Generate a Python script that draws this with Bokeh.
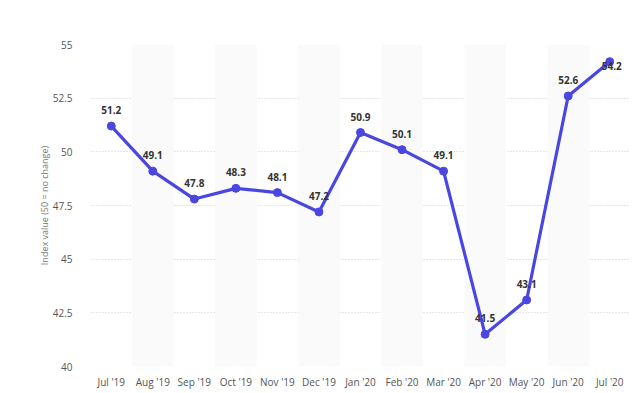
from bokeh.plotting import figure
from bokeh.models import FixedTicker, ColumnDataSource
from bokeh.core.properties import value
from bokeh.embed import file_html
from bokeh.resources import INLINE

months = ["Jul '19", "Aug '19", "Sep '19", "Oct '19", "Nov '19", "Dec '19",
          "Jan '20", "Feb '20", "Mar '20", "Apr '20", "May '20", "Jun '20", "Jul '20"]
index_values = [51.2, 49.1, 47.8, 48.3, 48.1, 47.2, 50.9, 50.1, 49.1, 41.5, 43.1, 52.6, 54.2]
y_ticks = [40, 42.5, 45, 47.5, 50, 52.5, 55]
y_tick_labels = ["40", "42.5", "45", "47.5", "50", "52.5", "55"]

Y_MIN, Y_MAX = 40, 55
FONT = "Open Sans"
LINE_COLOR = "#4a47e0"

p = figure(width=640, height=393, x_range=months, y_range=(Y_MIN, Y_MAX),
           output_backend="svg", toolbar_location=None,
           min_border_left=90, min_border_right=10, min_border_top=44, min_border_bottom=27)
p.outline_line_color = None
p.background_fill_color = "white"
p.border_fill_color = "white"

# alternating shaded bands
shaded = months[1::2]
p.vbar(x=shaded, top=Y_MAX, bottom=Y_MIN, width=1.0, fill_color="#fafafa", line_color=None)

p.xgrid.grid_line_color = None
p.ygrid.grid_line_color = "#cfcfcf"
p.ygrid.grid_line_dash = "1 2"
p.ygrid.ticker = FixedTicker(ticks=y_ticks)

p.yaxis.ticker = FixedTicker(ticks=y_ticks)
p.yaxis.major_label_overrides = {t: l for t, l in zip(y_ticks, y_tick_labels)}
for ax in (p.xaxis[0], p.yaxis[0]):
    ax.axis_line_color = None
    ax.major_tick_line_color = None
    ax.minor_tick_line_color = None
    ax.major_label_text_font = FONT
    ax.major_label_text_font_size = "10px"
    ax.major_label_text_color = "#555555"
p.yaxis.major_label_standoff = 12
p.xaxis.major_label_standoff = 2
p.yaxis.axis_label = "Index value (50 = no change)"
p.yaxis.axis_label_text_font = FONT
p.yaxis.axis_label_text_font_size = "9px"
p.yaxis.axis_label_text_font_style = "normal"
p.yaxis.axis_label_text_color = "#777777"
p.yaxis.axis_label_standoff = -1

src = ColumnDataSource(dict(x=months, y=index_values,
                            label=[f"{v:.1f}" for v in index_values]))
p.line("x", "y", source=src, line_color=LINE_COLOR, line_width=3.2)
p.scatter("x", "y", source=src, size=8, fill_color=LINE_COLOR, line_color=LINE_COLOR)

# labels above points; those too near the top are pushed below
offs = [4 if v > Y_MAX - 1.2 else -16 for v in index_values]
xoffs = [2 if v > Y_MAX - 1.2 else 0 for v in index_values]
src.data["yo"] = offs
src.data["xo"] = xoffs
p.text("x", "y", text="label", source=src, x_offset="xo", y_offset="yo",
       text_align="center", text_baseline="middle",
       text_font=value(FONT), text_font_size="10px", text_font_style="bold",
       text_color="#333333")

open("out.html", "w").write(file_html(p, INLINE))
